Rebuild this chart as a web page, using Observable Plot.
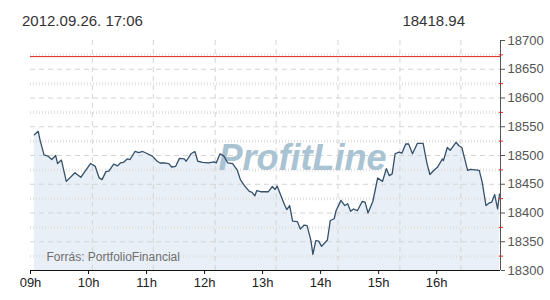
<!DOCTYPE html>
<html><head><meta charset="utf-8">
<script src="https://cdn.jsdelivr.net/npm/d3@7"></script>
<script src="https://cdn.jsdelivr.net/npm/@observablehq/plot@0.6"></script>
<style>
body{margin:0;background:#fff;font-family:"Liberation Sans",Arial,sans-serif;}
#wrap{position:relative;width:550px;height:300px;overflow:hidden;}
#hdr{position:relative;height:30px;}
.h{position:absolute;top:13px;font-size:15px;line-height:15px;color:#333;white-space:nowrap;}
#chart svg{display:block;}
</style></head><body>
<div id="wrap"><div id="hdr"><span class="h" style="left:22px">2012.09.26. 17:06</span><span class="h" style="right:85px">18418.94</span></div><div id="chart"></div></div>
<script>
const times = ["09:04","09:08","09:10","09:14","09:18","09:22","09:26","09:28","09:32","09:37","09:46","09:52","10:02","10:07","10:11","10:14","10:18","10:21","10:26","10:30","10:33","10:36","10:40","10:43","10:48","10:52","10:56","11:01","11:06","11:11","11:14","11:18","11:23","11:26","11:30","11:34","11:39","11:41","11:46","11:50","11:53","11:58","12:04","12:10","12:12","12:16","12:20","12:24","12:29","12:34","12:37","12:41","12:46","12:49","12:52","12:54","12:58","13:06","13:10","13:13","13:15","13:19","13:23","13:25","13:28","13:31","13:36","13:39","13:43","13:46","13:50","13:52","13:55","13:58","14:01","14:07","14:10","14:14","14:16","14:21","14:25","14:28","14:31","14:34","14:38","14:43","14:46","14:49","14:54","14:59","15:04","15:08","15:11","15:14","15:17","15:21","15:24","15:28","15:31","15:35","15:40","15:46","15:50","15:53","15:57","16:01","16:06","16:07","16:11","16:14","16:20","16:23","16:26","16:32","16:35","16:44","16:47","16:51","16:54","16:57","17:00","17:03","17:05"];
const values = [18536,18542,18526,18501,18499,18493,18500,18486,18492,18455,18470,18462,18486,18481,18461,18458,18472,18473,18485,18482,18487,18488,18494,18493,18507,18505,18507,18503,18499,18490,18487,18487,18486,18480,18481,18495,18494,18490,18503,18507,18490,18488,18487,18489,18487,18503,18499,18487,18486,18474,18458,18448,18438,18436,18430,18439,18437,18437,18446,18441,18447,18430,18413,18406,18413,18386,18385,18372,18379,18378,18352,18328,18352,18351,18342,18353,18387,18390,18404,18422,18413,18416,18403,18407,18404,18420,18419,18400,18420,18461,18455,18477,18465,18468,18503,18506,18504,18520,18520,18503,18521,18521,18486,18467,18474,18480,18494,18491,18514,18509,18523,18517,18514,18474,18476,18474,18454,18413,18417,18419,18432,18407,18433];
const hourTicks = ["09:00","10:00","11:00","12:00","13:00","14:00","15:00","16:00"];
const gridTimes = ["10:04","11:07","12:11","13:14","14:18","15:22","16:25"];
const majorY = [18300,18350,18400,18450,18500,18550,18600,18650,18700];
const minorY = [18325,18375,18425,18475,18525,18575,18625,18675];
const prevClose = 18672;
const domainStart = "09:00", domainEnd = "17:06";
const watermark = "ProfitLine";
const source = "Forrás: PortfolioFinancial";

const toDate = s => { const [h,m] = s.split(":").map(Number); return new Date(Date.UTC(2012,8,26,h,m)); };
const data = times.map((t,i) => ({date: toDate(t), value: values[i]}));
const yMin = majorY[0], yMax = majorY[majorY.length-1];

const chart = Plot.plot({
  width: 550, height: 270,
  marginTop: 10, marginBottom: 30, marginLeft: 30, marginRight: 50,
  style: {fontFamily: "'Liberation Sans', Arial, sans-serif", background: "transparent"},
  x: {type: "utc", domain: [toDate(domainStart), toDate(domainEnd)], label: null},
  y: {domain: [yMin, yMax], label: null},
  marks: [
    Plot.areaY(data, {x: "date", y1: yMin, y2: "value", fill: "#e8eff7"}),
    Plot.gridY(minorY, {stroke: "#e2e2e2", strokeOpacity: 1, strokeDasharray: "1,2", strokeWidth: 3}),
    Plot.gridY(majorY.slice(1, -1), {stroke: "#d4d4d4", strokeOpacity: 1, strokeDasharray: "5,4"}),
    Plot.gridX(gridTimes.map(toDate), {stroke: "#d4d4d4", strokeOpacity: 1, strokeDasharray: "5,4"}),
    Plot.text([watermark], {frameAnchor: "middle", dx: 37, dy: 3, fontSize: 36, fontWeight: "bold", fontStyle: "italic", fill: "#a9c3d3"}),
    Plot.lineY(data, {x: "date", y: "value", stroke: "#34506a", strokeWidth: 1.3}),
    Plot.ruleY([prevClose], {stroke: "#e0271f", strokeWidth: 1}),
    Plot.text([source], {frameAnchor: "bottom-left", dx: 16, dy: -13, lineAnchor: "middle", textAnchor: "start", fontSize: 12, fill: "#707070"}),
    Plot.ruleY([yMin], {stroke: "#111"}),
    Plot.ruleX([toDate(domainEnd)], {stroke: "#555"}),
    Plot.axisY(minorY, {anchor: "right", tickSize: 4, dx: -2, tickFormat: () => "", stroke: "#e0271f"}),
    Plot.axisY(majorY, {anchor: "right", tickSize: 4, tickPadding: 3, fontSize: 13, fill: "#555", stroke: "#555", tickFormat: d => String(d)}),
    Plot.axisX(hourTicks.map(toDate), {anchor: "bottom", tickSize: 4, tickPadding: 3, fontSize: 13, fill: "#222", stroke: "#111", tickFormat: d3.utcFormat("%Hh")})
  ]
});
document.getElementById("chart").appendChild(chart);
</script>
</body></html>
